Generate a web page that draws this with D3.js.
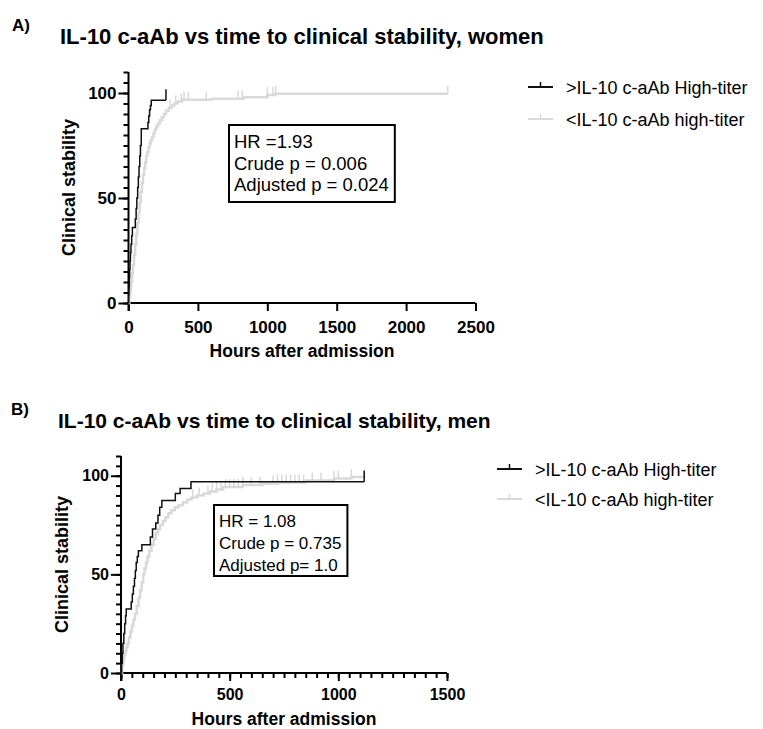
<!DOCTYPE html>
<html>
<head>
<meta charset="utf-8">
<script src="https://cdn.jsdelivr.net/npm/d3@7"></script>
<style>
body { margin: 0; background: #fff; }
svg text { font-family: "Liberation Sans", Arial, sans-serif; fill: #000; }
</style>
</head>
<body>
<svg id="chart" width="763" height="729"></svg>
<script>

// ---- data (hours after admission, % clinically stable) ----
var womenHigh = [[0,0],[2,4],[4,8],[6,12],[8,16],[11,20],[14,24],[18,28],[23,32],[28,36],
  [49,40],[55,45],[60,50],[66,55],[71,60],[76,65],[81,70],[86,75],[92,83],
  [140,86],[146,89],[152,92],[158,94],[164,96.5]];
var womenHighCens = [270];

var womenLow = [[0,0],[6,3],[12,6],[18,10],[25,14],[32,18],[40,23],[48,28],[56,33],[64,38],
  [72,43],[80,48],[88,53],[96,57],[104,61],[112,64],[120,67],[128,70],[136,72],[144,74],
  [152,76],[160,77.5],[170,79],[180,81],[190,82.5],[200,84],[212,85.5],[225,87],[240,88.5],
  [255,90],[270,91.5],[290,93],[310,94],[330,95],[355,96],[385,96.8],[600,97.3],[830,98],
  [1000,99],[1060,99.6]];
var womenLowCens = [300,340,380,400,430,560,790,820,1000,1040,1060,2300];

var menHigh = [[0,0],[3,5],[6,10],[9,15],[13,20],[17,25],[21,29],[24,32.5],
  [47,36],[52,40],[57,44],[62,48],[66,52],[70,56],[75,59],[80,62],[96,65],
  [135,69],[145,73],[160,76],[170,80],[178,84],[188,87.5],[250,91],[272,93.5],[322,97]];
var menHighCens = [1119];

var menLow = [[0,0],[5,4],[10,7],[15,9],[20,11],[25,13],[30,15],[36,18],[43,21],[50,24],
  [57,27],[64,30],[72,34],[81,38],[88,42],[95,46],[102,50],[108,53],[115,56],[122,59],
  [130,62],[140,65],[150,68],[160,71],[170,73],[180,75],[192,77],[205,79],[218,81],
  [232,82.5],[248,84],[265,85],[285,86.5],[305,88],[325,89],[350,90],[380,91],[410,92],
  [440,93],[470,94.3],[560,95.3],[650,96],[720,96.6],[850,97.6],[980,98.6],[1060,99.3]];
var menLowCens = [330,360,400,420,440,460,480,500,520,540,560,600,640,700,720,740,760,780,
  800,820,840,880,920,980,1000,1060,1120];

var legendLabels = [">IL-10 c-aAb High-titer", "<IL-10 c-aAb high-titer"];
var statsWomen = ["HR =1.93", "Crude p = 0.006", "Adjusted p = 0.024"];
var statsMen = ["HR = 1.08", "Crude p = 0.735", "Adjusted p= 1.0"];

var svg = d3.select("#chart");

function valueAt(pts, t) {
  var v = 0;
  pts.forEach(function(p) { if (p[0] <= t) v = p[1]; });
  return v;
}

function drawPanel(o) {
  var g = svg.append("g");
  var x = d3.scaleLinear().domain([0, o.xmax]).range([o.left, o.right]);
  var y = d3.scaleLinear().domain([0, 110]).range([o.bottom, o.top]);

  // panel letter + title
  g.append("text").attr("x", o.letterX).attr("y", o.letterY)
    .style("font-size", "17px").style("font-weight", "bold").text(o.letter);
  g.append("text").attr("x", o.titleX).attr("y", o.titleY)
    .style("font-size", o.titleFont + "px").style("font-weight", "bold").text(o.title);

  // y axis
  g.append("g").attr("transform", "translate(" + o.left + ",0)")
    .call(d3.axisLeft(y).tickValues([0, 50, 100]).tickSize(10).tickPadding(2))
    .select(".domain").remove();
  g.append("g").attr("transform", "translate(" + o.left + ",0)")
    .call(d3.axisLeft(y).tickValues(d3.range(0, 111, 5)).tickSize(5).tickFormat(""))
    .select(".domain").remove();
  g.append("line").attr("x1", o.left).attr("x2", o.left).attr("y1", o.top).attr("y2", o.bottom + 8)
    .attr("stroke", "#000").attr("stroke-width", 2);

  // x axis
  g.append("g").attr("transform", "translate(0," + o.bottom + ")")
    .call(d3.axisBottom(x).tickValues(d3.range(0, o.xmax + 1, 500)).tickSize(8)
      .tickPadding(o.xPad).tickFormat(d3.format("d")))
    .select(".domain").remove();
  if (o.minorX) {
    g.append("g").attr("transform", "translate(0," + o.bottom + ")")
      .call(d3.axisBottom(x).tickValues(d3.range(0, o.xmax + 1, o.minorX)).tickSize(5).tickFormat(""))
      .select(".domain").remove();
  }
  g.append("line").attr("x1", o.left).attr("x2", o.right).attr("y1", o.bottom).attr("y2", o.bottom)
    .attr("stroke", "#000").attr("stroke-width", 2);

  g.selectAll(".tick line").attr("stroke", "#000").attr("stroke-width", 2);
  g.selectAll(".tick text").style("font-size", o.tickFont + "px").style("font-weight", "bold")
    .style("font-family", "'Liberation Sans', Arial, sans-serif").attr("fill", "#000");

  // axis labels
  g.append("text").attr("x", (o.left + o.right) / 2).attr("y", o.xLabelY).attr("text-anchor", "middle")
    .style("font-size", "17.5px").style("font-weight", "bold").text("Hours after admission");
  g.append("text").attr("transform", "translate(" + o.yLabelX + "," + (o.top + o.bottom) / 2 + ") rotate(-90)")
    .attr("text-anchor", "middle").style("font-size", "18px").style("font-weight", "bold")
    .text("Clinical stability");

  var line = d3.line().x(function(d) { return x(d[0]); }).y(function(d) { return y(d[1]); })
    .curve(d3.curveStepAfter);

  function series(pts, cens, color, width, tickLen) {
    var end = d3.max(cens);
    var all = pts.concat([[end, pts[pts.length - 1][1]]]);
    g.append("path").attr("d", line(all)).attr("fill", "none")
      .attr("stroke", color).attr("stroke-width", width);
    g.selectAll(null).data(cens).enter().append("line")
      .attr("x1", function(t) { return x(t); }).attr("x2", function(t) { return x(t); })
      .attr("y1", function(t) { return y(valueAt(pts, t)); })
      .attr("y2", function(t) { return y(valueAt(pts, t)) - tickLen; })
      .attr("stroke", color).attr("stroke-width", 1.5);
  }
  series(o.low, o.lowCens, "#d9d9d9", 2.5, 8);
  series(o.high, o.highCens, "#111", 1.5, 11);

  // stats box
  var bx = g.append("g");
  var tx = bx.selectAll(null).data(o.stats).enter().append("text")
    .attr("x", o.boxX + 5).attr("y", function(d, i) { return o.boxY + o.boxFirst + i * o.boxStep; })
    .style("font-size", o.boxFont + "px").text(function(d) { return d; });
  var w = 0;
  tx.each(function() { w = Math.max(w, this.getComputedTextLength()); });
  bx.insert("rect", "text").attr("x", o.boxX).attr("y", o.boxY).attr("width", w + 11)
    .attr("height", o.boxH).attr("fill", "#fff").attr("stroke", "#000").attr("stroke-width", 2);

  // legend
  var colors = ["#111", "#d9d9d9"];
  legendLabels.forEach(function(lab, i) {
    var ly = o.legY + i * o.legStep;
    g.append("line").attr("x1", o.legX).attr("x2", o.legX + 25).attr("y1", ly).attr("y2", ly)
      .attr("stroke", colors[i]).attr("stroke-width", 2);
    g.append("line").attr("x1", o.legX + 12.5).attr("x2", o.legX + 12.5).attr("y1", ly).attr("y2", ly - 5)
      .attr("stroke", colors[i]).attr("stroke-width", 1.5);
    g.append("text").attr("x", o.legX + 38).attr("y", ly + 6.5).style("font-size", "18px").text(lab);
  });
}

drawPanel({
  letter: "A)", letterX: 12, letterY: 31,
  title: "IL-10 c-aAb vs time to clinical stability, women", titleX: 60, titleY: 44, titleFont: 22,
  left: 128.5, right: 475.5, top: 72, bottom: 303, xmax: 2500, minorX: 0,
  tickFont: 17, xPad: 10, xLabelY: 357, yLabelX: 75,
  high: womenHigh, highCens: womenHighCens, low: womenLow, lowCens: womenLowCens,
  stats: statsWomen, boxX: 229, boxY: 125, boxH: 77, boxFont: 18.5, boxFirst: 23, boxStep: 21.5,
  legX: 528, legY: 87, legStep: 32
});

drawPanel({
  letter: "B)", letterX: 11, letterY: 415,
  title: "IL-10 c-aAb vs time to clinical stability, men", titleX: 58, titleY: 428, titleFont: 21,
  left: 121, right: 447, top: 456, bottom: 673, xmax: 1500, minorX: 50,
  tickFont: 16, xPad: 8, xLabelY: 725, yLabelX: 68,
  high: menHigh, highCens: menHighCens, low: menLow, lowCens: menLowCens,
  stats: statsMen, boxX: 214, boxY: 505, boxH: 71, boxFont: 17, boxFirst: 22, boxStep: 22,
  legX: 497, legY: 469, legStep: 30
});

</script>
</body>
</html>
